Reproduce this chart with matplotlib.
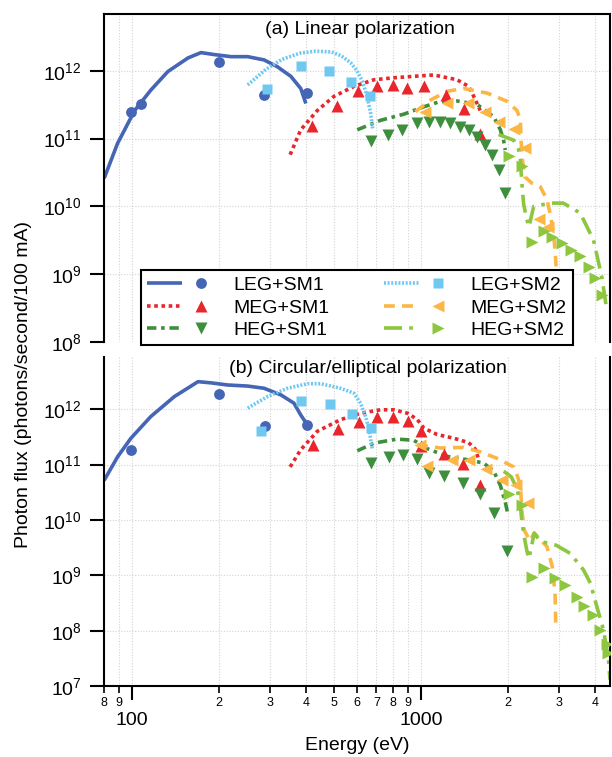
import numpy as np
import matplotlib.pyplot as plt
from matplotlib.ticker import FixedLocator, FuncFormatter, NullLocator
from matplotlib.legend_handler import HandlerTuple

plt.rcParams['font.family'] = ['Liberation Sans', 'DejaVu Sans']
plt.rcParams['mathtext.fontset'] = 'custom'
plt.rcParams['mathtext.rm'] = 'Liberation Sans'

# ---- (a) linear polarization: calculated curves and measured points ----
a_leg1_curve_e = [80, 89, 102, 116, 133, 156, 173, 192, 220, 251, 286, 318, 354, 383, 399]
a_leg1_curve_f = [2.6e10, 8.5e10, 2.6e11, 5.2e11, 9.8e11, 1.55e12, 1.86e12, 1.74e12, 1.62e12,
                  1.62e12, 1.45e12, 1.15e12, 8.3e11, 5.5e11, 3.3e11]
a_leg1_pts_e = [99, 107, 199, 286, 402]
a_leg1_pts_f = [2.5e11, 3.2e11, 1.37e12, 4.4e11, 4.7e11]

a_leg2_curve_e = [251, 290, 330, 380, 430, 490, 530, 570, 600, 625, 650, 668, 680]
a_leg2_curve_f = [6.2e11, 1.05e12, 1.48e12, 1.82e12, 1.95e12, 1.9e12, 1.66e12, 1.32e12,
                  1.0e12, 7.1e11, 4.2e11, 2.4e11, 1.35e11]
a_leg2_pts_e = [292, 385, 480, 573, 665]
a_leg2_pts_f = [5.4e11, 1.19e12, 1.0e12, 6.9e11, 4.3e11]

a_meg1_curve_e = [352, 383, 437, 499, 585, 687, 804, 942, 1106, 1330, 1459, 1520, 1560, 1600]
a_meg1_curve_f = [5.8e10, 1.35e11, 2.6e11, 4.2e11, 5.9e11, 7.4e11, 7.9e11, 8.3e11, 8.7e11,
                  7.4e11, 5.9e11, 4.2e11, 3.3e11, 2.6e11]
a_meg1_pts_e = [418, 513, 604, 705, 800, 895, 1021, 1214, 1410, 1603]
a_meg1_pts_f = [1.55e11, 3.0e11, 5.1e11, 5.9e11, 6.2e11, 5.5e11, 5.9e11, 4.4e11, 2.7e11, 1.18e11]

a_meg2_curve_e = [955, 1076, 1230, 1403, 1691, 1983, 2145, 2203, 2215, 2240, 2280, 2416, 2583,
                  2723, 2793, 2870, 2910, 2930]
a_meg2_curve_f = [2.5e11, 3.7e11, 5.0e11, 5.5e11, 4.7e11, 3.55e11, 2.6e11, 1.9e11, 9.5e10,
                  4.9e10, 2.75e10, 2.2e10, 1.95e10, 1.26e10, 7.9e9, 4.0e9, 2.0e9, 1.3e9]
a_meg2_pts_e = [1034, 1230, 1448, 1666, 1852, 2089, 2293, 2547, 2756]
a_meg2_pts_f = [2.5e11, 3.3e11, 3.3e11, 2.5e11, 1.74e11, 1.38e11, 7.4e10, 6.5e9, 5.0e9]

a_heg1_curve_e = [601, 722, 872, 1021, 1167, 1330, 1560, 1783, 1879, 1927, 1954]
a_heg1_curve_f = [1.35e11, 1.86e11, 2.3e11, 2.95e11, 3.55e11, 3.6e11, 3.2e11, 2.1e11, 1.35e11,
                  9.5e10, 6.8e10]
a_heg1_pts_e = [668, 767, 861, 970, 1062, 1159, 1262, 1357, 1459, 1555, 1660, 1756, 1852, 1945]
a_heg1_pts_f = [9.3e10, 1.15e11, 1.36e11, 1.68e11, 1.78e11, 1.78e11, 1.7e11, 1.51e11, 1.32e11,
                1.07e11, 8.1e10, 5.8e10, 3.5e10, 1.6e10]

a_heg2_curve_e = [1852, 2089, 2170, 2203, 2230, 2260, 2323, 2360, 2450, 2793, 3100, 3548, 3945,
                  4216, 4385]
a_heg2_curve_f = [1.15e11, 9.5e10, 7.0e10, 4.9e10, 2.2e10, 1.1e10, 6.3e9, 5.0e9, 1.0e10, 1.12e10,
                  1.12e10, 8.0e9, 3.2e9, 9.1e8, 3.0e8]
a_heg2_pts_e = [2009, 2230, 2416, 2654, 2833, 3070, 3295, 3548, 3793, 4000, 4220]
a_heg2_pts_f = [5.5e10, 3.9e10, 3.0e9, 4.3e9, 3.5e9, 2.9e9, 2.3e9, 1.86e9, 1.29e9, 8.7e8, 4.9e8]

# ---- (b) circular/elliptical polarization ----
b_leg1_curve_e = [80, 89, 99, 116, 140, 169, 188, 214, 251, 286, 327, 363, 383, 404]
b_leg1_curve_f = [5.2e10, 1.38e11, 3.0e11, 7.4e11, 1.7e12, 3.16e12, 3.0e12, 2.75e12, 2.63e12,
                  2.4e12, 1.82e12, 1.29e12, 7.9e11, 5.2e11]
b_leg1_pts_e = [99, 199, 288, 404]
b_leg1_pts_f = [1.85e11, 1.86e12, 5.0e11, 5.2e11]

b_leg2_curve_e = [251, 294, 345, 404, 449, 526, 585, 617, 642, 660, 678]
b_leg2_curve_f = [1.05e12, 1.7e12, 2.4e12, 2.9e12, 2.9e12, 2.4e12, 1.95e12, 1.29e12, 7.4e11,
                  4.3e11, 1.86e11]
b_leg2_pts_e = [279, 385, 484, 578, 668]
b_leg2_pts_f = [4.1e11, 1.41e12, 1.25e12, 8.2e11, 4.6e11]

b_meg1_curve_e = [352, 383, 437, 526, 617, 722, 805, 896, 968, 1020, 1136, 1297, 1459, 1540, 1580]
b_meg1_curve_f = [9.1e10, 1.86e11, 4.0e11, 6.5e11, 8.5e11, 9.8e11, 9.8e11, 8.5e11, 6.6e11, 4.6e11,
                  3.5e11, 3.0e11, 2.5e11, 1.9e11, 1.26e11]
b_meg1_pts_e = [421, 515, 609, 705, 800, 900, 995, 1000, 1198, 1400, 1600]
b_meg1_pts_f = [2.3e11, 4.4e11, 6.0e11, 7.2e11, 7.2e11, 6.2e11, 4.1e11, 2.2e11, 1.55e11, 1.02e11,
                4.2e10]

b_meg2_curve_e = [968, 1167, 1403, 1603, 1829, 2089, 2145, 2203, 2230, 2270, 2380, 2460, 2723,
                  2840, 2904, 2920]
b_meg2_curve_f = [2.3e11, 2.0e11, 2.05e11, 1.7e11, 1.3e11, 9.1e10, 6.5e10, 4.3e10, 1.5e10, 6.6e9,
                  4.2e9, 5.8e9, 3.3e9, 1.45e9, 4.8e8, 1.4e8]
b_meg2_pts_e = [990, 1049, 1280, 1459, 1680, 1906, 2120, 2340]
b_meg2_pts_f = [2.3e11, 9.5e10, 1.2e11, 1.2e11, 8.5e10, 5.3e10, 4.2e10, 2.0e10]

b_heg1_curve_e = [601, 687, 826, 943, 1049, 1230, 1441, 1644, 1783, 1879, 1954, 1990]
b_heg1_curve_f = [1.78e11, 2.45e11, 2.9e11, 2.75e11, 1.95e11, 1.41e11, 1.23e11, 1.07e11, 7.6e10,
                  4.2e10, 2.1e10, 1.35e10]
b_heg1_pts_e = [673, 773, 867, 968, 1062, 1203, 1400, 1600, 1791, 1987]
b_heg1_pts_f = [1.07e11, 1.38e11, 1.47e11, 1.26e11, 7.2e10, 6.2e10, 4.6e10, 2.95e10, 1.35e10, 2.7e9]

b_heg2_curve_e = [1930, 2050, 2145, 2203, 2230, 2265, 2323, 2360, 2460, 2583, 2930, 3275, 3640,
                  3850, 4050, 4270, 4445, 4500]
b_heg2_curve_f = [7.6e10, 6.0e10, 3.7e10, 1.86e10, 9.3e9, 5.4e9, 2.7e9, 2.0e9, 5.8e9, 4.1e9,
                  3.5e9, 2.5e9, 1.26e9, 7.2e8, 2.75e8, 1.05e8, 3.0e7, 1.3e7]
b_heg2_pts_e = [2009, 2230, 2416, 2668, 2904, 3150, 3455, 3665, 3930, 4140, 4385, 4445]
b_heg2_pts_f = [3.0e10, 1.86e10, 9.5e8, 1.33e9, 8.9e8, 6.8e8, 4.1e8, 2.8e8, 1.9e8, 1.02e8,
                5.8e7, 3.9e7]

labels = ['LEG+SM1', 'MEG+SM1', 'HEG+SM1', 'LEG+SM2', 'MEG+SM2', 'HEG+SM2']
colors = ['#4565b5', '#e8262c', '#3d8f3d', '#6fc8f0', '#fbb645', '#8dc63f']
dashes = [None, (1, 1), (2.6, 1.3, 1, 1.3), (0.55, 0.45), (3, 2), (5, 2, 1, 2)]
markers = ['o', '^', 'v', 's', '<', '>']
msizes = [7.8, 8.8, 8.8, 7.4, 8.8, 8.8]

panel_a = [
    (a_leg1_curve_e, a_leg1_curve_f, a_leg1_pts_e, a_leg1_pts_f),
    (a_meg1_curve_e, a_meg1_curve_f, a_meg1_pts_e, a_meg1_pts_f),
    (a_heg1_curve_e, a_heg1_curve_f, a_heg1_pts_e, a_heg1_pts_f),
    (a_leg2_curve_e, a_leg2_curve_f, a_leg2_pts_e, a_leg2_pts_f),
    (a_meg2_curve_e, a_meg2_curve_f, a_meg2_pts_e, a_meg2_pts_f),
    (a_heg2_curve_e, a_heg2_curve_f, a_heg2_pts_e, a_heg2_pts_f),
]
panel_b = [
    (b_leg1_curve_e, b_leg1_curve_f, b_leg1_pts_e, b_leg1_pts_f),
    (b_meg1_curve_e, b_meg1_curve_f, b_meg1_pts_e, b_meg1_pts_f),
    (b_heg1_curve_e, b_heg1_curve_f, b_heg1_pts_e, b_heg1_pts_f),
    (b_leg2_curve_e, b_leg2_curve_f, b_leg2_pts_e, b_leg2_pts_f),
    (b_meg2_curve_e, b_meg2_curve_f, b_meg2_pts_e, b_meg2_pts_f),
    (b_heg2_curve_e, b_heg2_curve_f, b_heg2_pts_e, b_heg2_pts_f),
]

W, H = 612, 757
fig = plt.figure(figsize=(W / 100, H / 100), dpi=100)
left, right = 104 / W, 610 / W
ax_a = fig.add_axes([left, 1 - 342 / H, right - left, (342 - 14) / H])
ax_b = fig.add_axes([left, 1 - 686 / H, right - left, (686 - 356.5) / H], sharex=ax_a)


def draw_panel(ax, series):
    handles = []
    for i, (ce, cf, pe, pf) in enumerate(series):
        ln, = ax.plot(ce, cf, color=colors[i], lw=2.6, zorder=2,
                      solid_capstyle='butt', dash_capstyle='butt')
        if dashes[i] is not None:
            ln.set_dashes(dashes[i])
        mk, = ax.plot(pe, pf, ls='none', marker=markers[i], ms=msizes[i],
                      color=colors[i], mec='none', zorder=3)
        handles.append((ln, mk))
    return handles


handles = draw_panel(ax_a, panel_a)
draw_panel(ax_b, panel_b)

for ax in (ax_a, ax_b):
    ax.set_xscale('log')
    ax.set_yscale('log')
    ax.grid(True, which='both', axis='x', color='#d4d4d4', ls=(0, (1, 1.5)), lw=0.8)
    ax.grid(True, which='major', axis='y', color='#d4d4d4', ls=(0, (1, 1.5)), lw=0.8)
    ax.set_axisbelow(True)
    for s in ax.spines.values():
        s.set_linewidth(1.5)
    ax.yaxis.set_minor_locator(NullLocator())
    ax.tick_params(axis='y', which='major', length=10, width=1.5, labelsize=14, pad=6)

ax_a.set_xlim(79.9, 4500)
ax_a.set_ylim(1e8, 6.9e12)
ax_b.set_ylim(1e7, 9e12)
ax_a.set_yticks([1e8, 1e9, 1e10, 1e11, 1e12])
ax_b.set_yticks([1e7, 1e8, 1e9, 1e10, 1e11, 1e12])

ax_b.xaxis.set_major_locator(FixedLocator([100, 1000]))
ax_b.xaxis.set_minor_locator(FixedLocator([80, 90] + [k * 100 for k in range(2, 10)]
                                          + [k * 1000 for k in range(2, 5)]))
ax_b.xaxis.set_major_formatter(FuncFormatter(lambda v, p: '%d' % v))
ax_b.xaxis.set_minor_formatter(
    FuncFormatter(lambda v, p: '%d' % round(v / 10 ** np.floor(np.log10(v) + 1e-9))))
ax_b.tick_params(axis='x', which='major', length=10, width=1.5, labelsize=14, pad=9)
ax_b.tick_params(axis='x', which='minor', length=5, width=1.2, labelsize=9, pad=3)
ax_a.tick_params(axis='x', which='both', bottom=False, labelbottom=False)

ax_a.spines['bottom'].set_visible(False)
ax_b.spines['top'].set_visible(False)

ax_a.text(0.505, 0.954, '(a) Linear polarization', transform=ax_a.transAxes,
          ha='center', va='center', fontsize=14)
ax_b.text(0.522, 0.964, '(b) Circular/elliptical polarization', transform=ax_b.transAxes,
          ha='center', va='center', fontsize=14)

fig.text(23.5 / W, 1 - 384 / H, 'Photon flux (photons/second/100 mA)', rotation=90,
         ha='center', va='center', fontsize=14)
fig.text(357.5 / W, 1 - 745 / H, 'Energy (eV)', ha='center', va='center', fontsize=14)

leg = ax_a.legend(handles, labels, ncol=2, loc='upper left',
                  bbox_to_anchor=(140.7 / W, 1 - 270 / H), bbox_transform=fig.transFigure,
                  borderaxespad=0, fontsize=14, handlelength=3.65, handletextpad=0.8,
                  columnspacing=2.8, labelspacing=0.25, borderpad=0.33, fancybox=False,
                  framealpha=1, edgecolor='black',
                  handler_map={tuple: HandlerTuple(ndivide=None, pad=0.08)})
leg.get_frame().set_linewidth(1.5)

fig.savefig('out.png', dpi=100)
